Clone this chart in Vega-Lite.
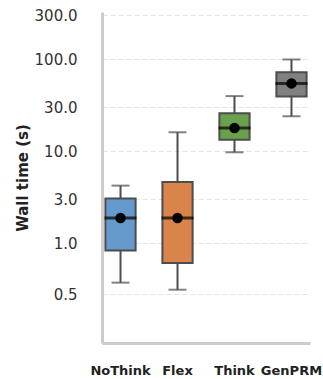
{
  "$schema": "https://vega.github.io/schema/vega-lite/v6.json",
  "width": 208,
  "height": 331,
  "autosize": {"type": "none"},
  "padding": {"left": 102, "top": 12, "right": 13, "bottom": 36},
  "background": "white",
  "config": {
    "view": {"stroke": null},
    "font": "DejaVu Sans"
  },
  "data": {
    "values": [
      {"method": "NoThink", "lower": 0.371, "q1": 0.83, "median": 1.87, "q3": 3.05, "upper": 4.21, "mean": 1.87, "color": "#6699cc"},
      {"method": "Flex", "lower": 0.311, "q1": 0.607, "median": 1.87, "q3": 4.62, "upper": 16.0, "mean": 1.87, "color": "#d9844a"},
      {"method": "Think", "lower": 9.7, "q1": 13.3, "median": 17.8, "q3": 25.7, "upper": 39.6, "mean": 17.8, "color": "#6ba04d"},
      {"method": "GenPRM", "lower": 23.9, "q1": 39.3, "median": 54.4, "q3": 72.1, "upper": 99.0, "mean": 54.4, "color": "#808080"}
    ]
  },
  "encoding": {
    "x": {
      "field": "method",
      "type": "nominal",
      "sort": ["NoThink", "Flex", "Think", "GenPRM"],
      "scale": {"type": "band", "paddingInner": 0.47, "paddingOuter": 0.06},
      "axis": {
        "title": null,
        "labelAngle": 0,
        "labelFont": "DejaVu Sans",
        "labelFontWeight": "bold",
        "labelFontSize": 13,
        "labelColor": "#222222",
        "labelPadding": 21,
        "ticks": false,
        "domainColor": "#cccccc",
        "domainWidth": 3,
        "grid": false
      }
    }
  },
  "layer": [
    {
      "mark": {"type": "rule", "color": "#4d4d4d", "strokeWidth": 2},
      "encoding": {
        "y": {
          "field": "lower",
          "type": "quantitative",
          "scale": {"type": "log", "domain": [0.0819, 325], "nice": false, "zero": false},
          "axis": {
            "title": "Wall time (s)",
            "titleFont": "DejaVu Sans",
            "titleFontWeight": "bold",
            "titleFontSize": 15,
            "titleColor": "#222222",
            "titlePadding": 4,
            "values": [0.278, 1, 3, 10, 30, 100, 300],
            "labelExpr": "datum.value < 0.5 ? '0.5' : format(datum.value, '.1f')",
            "labelFont": "DejaVu Sans",
            "labelFontSize": 15,
            "labelColor": "#333333",
            "labelPadding": 25,
            "ticks": false,
            "domainColor": "#cccccc",
            "domainWidth": 3,
            "grid": true,
            "gridColor": "#e3e3e3",
            "gridDash": [5, 3],
            "gridWidth": 1
          }
        },
        "y2": {"field": "upper"}
      }
    },
    {
      "mark": {"type": "tick", "color": "#4d4d4d", "thickness": 2, "size": 18},
      "encoding": {"y": {"field": "lower", "type": "quantitative"}}
    },
    {
      "mark": {"type": "tick", "color": "#4d4d4d", "thickness": 2, "size": 18},
      "encoding": {"y": {"field": "upper", "type": "quantitative"}}
    },
    {
      "mark": {"type": "bar", "stroke": "#4d4d4d", "strokeWidth": 2},
      "encoding": {
        "y": {"field": "q1", "type": "quantitative"},
        "y2": {"field": "q3"},
        "fill": {"field": "color", "type": "nominal", "scale": null}
      }
    },
    {
      "mark": {"type": "tick", "color": "#000000", "thickness": 3, "size": 32},
      "encoding": {"y": {"field": "median", "type": "quantitative"}}
    },
    {
      "mark": {"type": "point", "filled": true, "color": "#000000", "size": 110, "opacity": 1},
      "encoding": {"y": {"field": "mean", "type": "quantitative"}}
    }
  ]
}
